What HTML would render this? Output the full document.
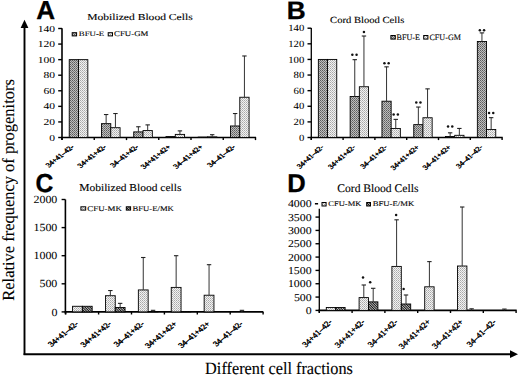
<!DOCTYPE html>
<html><head><meta charset="utf-8"><style>
html,body{margin:0;padding:0;background:#fff;width:520px;height:376px;overflow:hidden}
svg{display:block}

</style></head><body>
<svg width="520" height="376" viewBox="0 0 520 376" text-rendering="geometricPrecision">
<style>.t{stroke:#000;stroke-width:0.12px}.ty{stroke:#000;stroke-width:0.05px}.tc{stroke:#000;stroke-width:0.38px}.tl{stroke:#000;stroke-width:0.3px}.tn{stroke:#000;stroke-width:0.1px}</style>
<defs>
<pattern id="pd" width="2" height="2" patternUnits="userSpaceOnUse"><rect width="2" height="2" fill="#bebebe"/><rect width="1" height="1" fill="#5c5c5c"/><rect x="1" y="1" width="1" height="1" fill="#787878"/></pattern>
<pattern id="pd2" width="2" height="2" patternUnits="userSpaceOnUse"><rect width="2" height="2" fill="#8a8a8a"/><rect width="1" height="1" fill="#4a4a4a"/><rect x="1" y="1" width="1" height="1" fill="#5a5a5a"/></pattern>
<pattern id="pl" width="2" height="2" patternUnits="userSpaceOnUse"><rect width="2" height="2" fill="#f2f2f2"/><rect width="1" height="1" fill="#a8a8a8"/><rect x="1" y="1" width="1" height="1" fill="#c0c0c0"/></pattern>
<pattern id="ph" width="1.75" height="1.75" patternUnits="userSpaceOnUse" patternTransform="rotate(-45)"><rect width="1.75" height="1.75" fill="#ffffff"/><rect width="1.1" height="1.75" fill="#111"/></pattern>
</defs>
<rect width="520" height="376" fill="#fff"/>
<line x1="24.5" y1="27" x2="24.5" y2="355.1" stroke="#000" stroke-width="1.9"/>
<polygon points="24.5,19.8 20.6,28 28.4,28" fill="#000"/>
<line x1="23.6" y1="354.2" x2="511" y2="354.2" stroke="#000" stroke-width="1.9"/>
<polygon points="518,354.2 510,350.3 510,358.1" fill="#000"/>
<text transform="translate(13.8,300.69) rotate(-90) scale(0.971,1)" font-size="16.95" font-family="Liberation Serif" class="t">Relative frequency of progenitors</text>
<text transform="translate(205.11,373.80) scale(0.943,1)" font-size="17.25" font-family="Liberation Serif" font-weight="normal" fill="#000" class="t" >Different cell fractions</text>
<line x1="62.0" y1="28.3" x2="62.0" y2="139.9" stroke="#000" stroke-width="1.6"/>
<line x1="58.2" y1="137.50" x2="62.0" y2="137.50" stroke="#000" stroke-width="1.4"/>
<text transform="translate(49.18,140.53) scale(1.270,1)" font-size="9.10" font-family="Liberation Serif" class="ty">0</text>
<line x1="58.2" y1="121.93" x2="62.0" y2="121.93" stroke="#000" stroke-width="1.4"/>
<text transform="translate(43.41,124.95) scale(1.270,1)" font-size="9.10" font-family="Liberation Serif" class="ty">20</text>
<line x1="58.2" y1="106.36" x2="62.0" y2="106.36" stroke="#000" stroke-width="1.4"/>
<text transform="translate(43.41,109.38) scale(1.270,1)" font-size="9.10" font-family="Liberation Serif" class="ty">40</text>
<line x1="58.2" y1="90.78" x2="62.0" y2="90.78" stroke="#000" stroke-width="1.4"/>
<text transform="translate(43.41,93.81) scale(1.270,1)" font-size="9.10" font-family="Liberation Serif" class="ty">60</text>
<line x1="58.2" y1="75.21" x2="62.0" y2="75.21" stroke="#000" stroke-width="1.4"/>
<text transform="translate(43.41,78.24) scale(1.270,1)" font-size="9.10" font-family="Liberation Serif" class="ty">80</text>
<line x1="58.2" y1="59.64" x2="62.0" y2="59.64" stroke="#000" stroke-width="1.4"/>
<text transform="translate(37.63,62.67) scale(1.270,1)" font-size="9.10" font-family="Liberation Serif" class="ty">100</text>
<line x1="58.2" y1="44.07" x2="62.0" y2="44.07" stroke="#000" stroke-width="1.4"/>
<text transform="translate(37.63,47.09) scale(1.270,1)" font-size="9.10" font-family="Liberation Serif" class="ty">120</text>
<line x1="58.2" y1="28.50" x2="62.0" y2="28.50" stroke="#000" stroke-width="1.4"/>
<text transform="translate(37.63,31.52) scale(1.270,1)" font-size="9.10" font-family="Liberation Serif" class="ty">140</text>
<line x1="61.2" y1="137.5" x2="256.1" y2="137.5" stroke="#000" stroke-width="1.7"/>
<line x1="62.00" y1="137.5" x2="62.00" y2="140.1" stroke="#000" stroke-width="1.4"/>
<line x1="94.25" y1="137.5" x2="94.25" y2="140.1" stroke="#000" stroke-width="1.4"/>
<line x1="126.50" y1="137.5" x2="126.50" y2="140.1" stroke="#000" stroke-width="1.4"/>
<line x1="158.75" y1="137.5" x2="158.75" y2="140.1" stroke="#000" stroke-width="1.4"/>
<line x1="191.00" y1="137.5" x2="191.00" y2="140.1" stroke="#000" stroke-width="1.4"/>
<line x1="223.25" y1="137.5" x2="223.25" y2="140.1" stroke="#000" stroke-width="1.4"/>
<line x1="255.50" y1="137.5" x2="255.50" y2="140.1" stroke="#000" stroke-width="1.4"/>
<rect x="69.23" y="59.64" width="9.3" height="77.86" fill="url(#pd)" stroke="#000" stroke-width="0.9"/>
<rect x="78.53" y="59.64" width="9.3" height="77.86" fill="url(#pl)" stroke="#000" stroke-width="0.9"/>
<rect x="101.48" y="123.64" width="9.3" height="13.86" fill="url(#pd)" stroke="#000" stroke-width="0.9"/>
<line x1="106.13" y1="123.64" x2="106.13" y2="114.53" stroke="#333" stroke-width="1"/>
<line x1="103.93" y1="114.53" x2="108.33" y2="114.53" stroke="#222" stroke-width="1.1"/>
<rect x="110.78" y="127.69" width="9.3" height="9.81" fill="url(#pl)" stroke="#000" stroke-width="0.9"/>
<line x1="115.43" y1="127.69" x2="115.43" y2="113.52" stroke="#333" stroke-width="1"/>
<line x1="113.23" y1="113.52" x2="117.63" y2="113.52" stroke="#222" stroke-width="1.1"/>
<rect x="133.72" y="131.89" width="9.3" height="5.61" fill="url(#pd)" stroke="#000" stroke-width="0.9"/>
<line x1="138.38" y1="131.89" x2="138.38" y2="126.76" stroke="#333" stroke-width="1"/>
<line x1="136.18" y1="126.76" x2="140.57" y2="126.76" stroke="#222" stroke-width="1.1"/>
<rect x="143.03" y="130.57" width="9.3" height="6.93" fill="url(#pl)" stroke="#000" stroke-width="0.9"/>
<line x1="147.68" y1="130.57" x2="147.68" y2="124.89" stroke="#333" stroke-width="1"/>
<line x1="145.48" y1="124.89" x2="149.88" y2="124.89" stroke="#222" stroke-width="1.1"/>
<rect x="165.97" y="136.57" width="9.3" height="0.93" fill="url(#pd)" stroke="#000" stroke-width="0.9"/>
<rect x="175.28" y="134.39" width="9.3" height="3.11" fill="url(#pl)" stroke="#000" stroke-width="0.9"/>
<line x1="179.93" y1="134.39" x2="179.93" y2="130.88" stroke="#333" stroke-width="1"/>
<line x1="177.73" y1="130.88" x2="182.12" y2="130.88" stroke="#222" stroke-width="1.1"/>
<rect x="198.22" y="137.11" width="9.3" height="0.39" fill="url(#pd)" stroke="#000" stroke-width="0.9"/>
<rect x="207.53" y="136.88" width="9.3" height="0.62" fill="url(#pl)" stroke="#000" stroke-width="0.9"/>
<line x1="212.18" y1="136.88" x2="212.18" y2="134.70" stroke="#333" stroke-width="1"/>
<line x1="209.98" y1="134.70" x2="214.38" y2="134.70" stroke="#222" stroke-width="1.1"/>
<rect x="230.47" y="125.98" width="9.3" height="11.52" fill="url(#pd)" stroke="#000" stroke-width="0.9"/>
<line x1="235.12" y1="125.98" x2="235.12" y2="113.52" stroke="#333" stroke-width="1"/>
<line x1="232.93" y1="113.52" x2="237.32" y2="113.52" stroke="#222" stroke-width="1.1"/>
<rect x="239.78" y="97.25" width="9.3" height="40.25" fill="url(#pl)" stroke="#000" stroke-width="0.9"/>
<line x1="244.43" y1="97.25" x2="244.43" y2="55.98" stroke="#333" stroke-width="1"/>
<line x1="242.23" y1="55.98" x2="246.62" y2="55.98" stroke="#222" stroke-width="1.1"/>
<text transform="translate(74.56,147.35) scale(1.250,1) rotate(-45)" font-size="6.60" font-family="Liberation Serif" text-anchor="end" class="tc">34+41–42-</text>
<text transform="translate(106.81,147.35) scale(1.250,1) rotate(-45)" font-size="6.60" font-family="Liberation Serif" text-anchor="end" class="tc">34+41+42-</text>
<text transform="translate(139.06,147.35) scale(1.250,1) rotate(-45)" font-size="6.60" font-family="Liberation Serif" text-anchor="end" class="tc">34–41+42-</text>
<text transform="translate(171.31,147.35) scale(1.250,1) rotate(-45)" font-size="6.60" font-family="Liberation Serif" text-anchor="end" class="tc">34+41+42+</text>
<text transform="translate(203.56,147.35) scale(1.250,1) rotate(-45)" font-size="6.60" font-family="Liberation Serif" text-anchor="end" class="tc">34–41+42+</text>
<text transform="translate(235.81,147.35) scale(1.250,1) rotate(-45)" font-size="6.60" font-family="Liberation Serif" text-anchor="end" class="tc">34–41–42-</text>
<line x1="311.3" y1="28.0" x2="311.3" y2="139.9" stroke="#000" stroke-width="1.3"/>
<line x1="307.5" y1="137.50" x2="311.3" y2="137.50" stroke="#000" stroke-width="1.4"/>
<text transform="translate(298.96,140.66) scale(1.130,1)" font-size="9.50" font-family="Liberation Serif" class="ty">0</text>
<line x1="307.5" y1="121.89" x2="311.3" y2="121.89" stroke="#000" stroke-width="1.4"/>
<text transform="translate(293.59,125.04) scale(1.130,1)" font-size="9.50" font-family="Liberation Serif" class="ty">20</text>
<line x1="307.5" y1="106.27" x2="311.3" y2="106.27" stroke="#000" stroke-width="1.4"/>
<text transform="translate(293.59,109.43) scale(1.130,1)" font-size="9.50" font-family="Liberation Serif" class="ty">40</text>
<line x1="307.5" y1="90.66" x2="311.3" y2="90.66" stroke="#000" stroke-width="1.4"/>
<text transform="translate(293.59,93.82) scale(1.130,1)" font-size="9.50" font-family="Liberation Serif" class="ty">60</text>
<line x1="307.5" y1="75.04" x2="311.3" y2="75.04" stroke="#000" stroke-width="1.4"/>
<text transform="translate(293.59,78.20) scale(1.130,1)" font-size="9.50" font-family="Liberation Serif" class="ty">80</text>
<line x1="307.5" y1="59.43" x2="311.3" y2="59.43" stroke="#000" stroke-width="1.4"/>
<text transform="translate(288.23,62.59) scale(1.130,1)" font-size="9.50" font-family="Liberation Serif" class="ty">100</text>
<line x1="307.5" y1="43.82" x2="311.3" y2="43.82" stroke="#000" stroke-width="1.4"/>
<text transform="translate(288.23,46.97) scale(1.130,1)" font-size="9.50" font-family="Liberation Serif" class="ty">120</text>
<line x1="307.5" y1="28.20" x2="311.3" y2="28.20" stroke="#000" stroke-width="1.4"/>
<text transform="translate(288.23,31.36) scale(1.130,1)" font-size="9.50" font-family="Liberation Serif" class="ty">140</text>
<line x1="310.5" y1="137.5" x2="502.70000000000005" y2="137.5" stroke="#000" stroke-width="1.7"/>
<line x1="311.30" y1="137.5" x2="311.30" y2="140.1" stroke="#000" stroke-width="1.4"/>
<line x1="343.10" y1="137.5" x2="343.10" y2="140.1" stroke="#000" stroke-width="1.4"/>
<line x1="374.90" y1="137.5" x2="374.90" y2="140.1" stroke="#000" stroke-width="1.4"/>
<line x1="406.70" y1="137.5" x2="406.70" y2="140.1" stroke="#000" stroke-width="1.4"/>
<line x1="438.50" y1="137.5" x2="438.50" y2="140.1" stroke="#000" stroke-width="1.4"/>
<line x1="470.30" y1="137.5" x2="470.30" y2="140.1" stroke="#000" stroke-width="1.4"/>
<line x1="502.10" y1="137.5" x2="502.10" y2="140.1" stroke="#000" stroke-width="1.4"/>
<rect x="318.35" y="59.43" width="9.2" height="78.07" fill="url(#pd)" stroke="#000" stroke-width="0.9"/>
<rect x="327.55" y="59.43" width="9.2" height="78.07" fill="url(#pl)" stroke="#000" stroke-width="0.9"/>
<rect x="350.15" y="96.51" width="9.2" height="40.99" fill="url(#pd)" stroke="#000" stroke-width="0.9"/>
<line x1="354.75" y1="96.51" x2="354.75" y2="59.66" stroke="#333" stroke-width="1"/>
<line x1="352.55" y1="59.66" x2="356.95" y2="59.66" stroke="#222" stroke-width="1.1"/>
<circle cx="352.35" cy="54.86" r="1.25" fill="#111"/>
<circle cx="356.55" cy="54.86" r="1.25" fill="#111"/>
<rect x="359.35" y="86.75" width="9.2" height="50.75" fill="url(#pl)" stroke="#000" stroke-width="0.9"/>
<line x1="363.95" y1="86.75" x2="363.95" y2="36.01" stroke="#333" stroke-width="1"/>
<line x1="361.75" y1="36.01" x2="366.15" y2="36.01" stroke="#222" stroke-width="1.1"/>
<circle cx="363.95" cy="32.11" r="1.25" fill="#111"/>
<rect x="381.95" y="101.20" width="9.2" height="36.30" fill="url(#pd)" stroke="#000" stroke-width="0.9"/>
<line x1="386.55" y1="101.20" x2="386.55" y2="66.85" stroke="#333" stroke-width="1"/>
<line x1="384.35" y1="66.85" x2="388.75" y2="66.85" stroke="#222" stroke-width="1.1"/>
<circle cx="384.45" cy="63.15" r="1.25" fill="#111"/>
<circle cx="388.65" cy="63.15" r="1.25" fill="#111"/>
<rect x="391.15" y="128.52" width="9.2" height="8.98" fill="url(#pl)" stroke="#000" stroke-width="0.9"/>
<line x1="395.75" y1="128.52" x2="395.75" y2="119.39" stroke="#333" stroke-width="1"/>
<line x1="393.55" y1="119.39" x2="397.95" y2="119.39" stroke="#222" stroke-width="1.1"/>
<circle cx="393.65" cy="114.59" r="1.25" fill="#111"/>
<circle cx="397.85" cy="114.59" r="1.25" fill="#111"/>
<rect x="413.75" y="124.62" width="9.2" height="12.88" fill="url(#pd)" stroke="#000" stroke-width="0.9"/>
<line x1="418.35" y1="124.62" x2="418.35" y2="107.05" stroke="#333" stroke-width="1"/>
<line x1="416.15" y1="107.05" x2="420.55" y2="107.05" stroke="#222" stroke-width="1.1"/>
<circle cx="416.25" cy="102.55" r="1.25" fill="#111"/>
<circle cx="420.45" cy="102.55" r="1.25" fill="#111"/>
<rect x="422.95" y="117.75" width="9.2" height="19.75" fill="url(#pl)" stroke="#000" stroke-width="0.9"/>
<line x1="427.55" y1="117.75" x2="427.55" y2="88.86" stroke="#333" stroke-width="1"/>
<line x1="425.35" y1="88.86" x2="429.75" y2="88.86" stroke="#222" stroke-width="1.1"/>
<rect x="445.55" y="136.49" width="9.2" height="1.01" fill="url(#pd)" stroke="#000" stroke-width="0.9"/>
<line x1="450.15" y1="136.49" x2="450.15" y2="132.82" stroke="#333" stroke-width="1"/>
<line x1="447.95" y1="132.82" x2="452.35" y2="132.82" stroke="#222" stroke-width="1.1"/>
<circle cx="448.05" cy="126.52" r="1.25" fill="#111"/>
<circle cx="452.25" cy="126.52" r="1.25" fill="#111"/>
<rect x="454.75" y="135.31" width="9.2" height="2.19" fill="url(#pl)" stroke="#000" stroke-width="0.9"/>
<line x1="459.35" y1="135.31" x2="459.35" y2="128.44" stroke="#333" stroke-width="1"/>
<line x1="457.15" y1="128.44" x2="461.55" y2="128.44" stroke="#222" stroke-width="1.1"/>
<rect x="477.35" y="41.47" width="9.2" height="96.03" fill="url(#pd)" stroke="#000" stroke-width="0.9"/>
<line x1="481.95" y1="41.47" x2="481.95" y2="32.89" stroke="#333" stroke-width="1"/>
<line x1="479.75" y1="32.89" x2="484.15" y2="32.89" stroke="#222" stroke-width="1.1"/>
<circle cx="479.85" cy="30.29" r="1.25" fill="#111"/>
<circle cx="484.05" cy="30.29" r="1.25" fill="#111"/>
<rect x="486.55" y="129.46" width="9.2" height="8.04" fill="url(#pl)" stroke="#000" stroke-width="0.9"/>
<line x1="491.15" y1="129.46" x2="491.15" y2="117.67" stroke="#333" stroke-width="1"/>
<line x1="488.95" y1="117.67" x2="493.35" y2="117.67" stroke="#222" stroke-width="1.1"/>
<circle cx="489.05" cy="113.07" r="1.25" fill="#111"/>
<circle cx="493.25" cy="113.07" r="1.25" fill="#111"/>
<text transform="translate(324.10,147.65) scale(1.130,1) rotate(-45)" font-size="6.90" font-family="Liberation Serif" text-anchor="end" class="tc">34+41–42-</text>
<text transform="translate(355.90,147.65) scale(1.130,1) rotate(-45)" font-size="6.90" font-family="Liberation Serif" text-anchor="end" class="tc">34+41+42-</text>
<text transform="translate(387.70,147.65) scale(1.130,1) rotate(-45)" font-size="6.90" font-family="Liberation Serif" text-anchor="end" class="tc">34–41+42-</text>
<text transform="translate(419.50,147.65) scale(1.130,1) rotate(-45)" font-size="6.90" font-family="Liberation Serif" text-anchor="end" class="tc">34+41+42+</text>
<text transform="translate(451.30,147.65) scale(1.130,1) rotate(-45)" font-size="6.90" font-family="Liberation Serif" text-anchor="end" class="tc">34–41+42+</text>
<text transform="translate(483.10,147.65) scale(1.130,1) rotate(-45)" font-size="6.90" font-family="Liberation Serif" text-anchor="end" class="tc">34–41–42-</text>
<line x1="65.4" y1="199.5" x2="65.4" y2="314.29999999999995" stroke="#000" stroke-width="1.6"/>
<line x1="61.60000000000001" y1="311.90" x2="65.4" y2="311.90" stroke="#000" stroke-width="1.4"/>
<text transform="translate(51.38,315.52) scale(1.100,1)" font-size="10.90" font-family="Liberation Serif" class="ty">0</text>
<line x1="61.60000000000001" y1="283.80" x2="65.4" y2="283.80" stroke="#000" stroke-width="1.4"/>
<text transform="translate(39.39,287.42) scale(1.100,1)" font-size="10.90" font-family="Liberation Serif" class="ty">500</text>
<line x1="61.60000000000001" y1="255.70" x2="65.4" y2="255.70" stroke="#000" stroke-width="1.4"/>
<text transform="translate(33.40,259.32) scale(1.100,1)" font-size="10.90" font-family="Liberation Serif" class="ty">1000</text>
<line x1="61.60000000000001" y1="227.60" x2="65.4" y2="227.60" stroke="#000" stroke-width="1.4"/>
<text transform="translate(33.40,231.22) scale(1.100,1)" font-size="10.90" font-family="Liberation Serif" class="ty">1500</text>
<line x1="61.60000000000001" y1="199.50" x2="65.4" y2="199.50" stroke="#000" stroke-width="1.4"/>
<text transform="translate(33.40,203.12) scale(1.100,1)" font-size="10.90" font-family="Liberation Serif" class="ty">2000</text>
<line x1="64.60000000000001" y1="311.9" x2="263.4" y2="311.9" stroke="#000" stroke-width="1.7"/>
<line x1="65.70" y1="311.9" x2="65.70" y2="314.5" stroke="#000" stroke-width="1.4"/>
<line x1="98.60" y1="311.9" x2="98.60" y2="314.5" stroke="#000" stroke-width="1.4"/>
<line x1="131.50" y1="311.9" x2="131.50" y2="314.5" stroke="#000" stroke-width="1.4"/>
<line x1="164.40" y1="311.9" x2="164.40" y2="314.5" stroke="#000" stroke-width="1.4"/>
<line x1="197.30" y1="311.9" x2="197.30" y2="314.5" stroke="#000" stroke-width="1.4"/>
<line x1="230.20" y1="311.9" x2="230.20" y2="314.5" stroke="#000" stroke-width="1.4"/>
<line x1="263.10" y1="311.9" x2="263.10" y2="314.5" stroke="#000" stroke-width="1.4"/>
<rect x="72.55" y="306.28" width="9.8" height="5.62" fill="url(#pl)" stroke="#000" stroke-width="0.9"/>
<rect x="82.35" y="306.28" width="9.8" height="5.62" fill="url(#ph)" stroke="#000" stroke-width="0.9"/>
<rect x="105.45" y="295.71" width="9.8" height="16.19" fill="url(#pl)" stroke="#000" stroke-width="0.9"/>
<line x1="110.35" y1="295.71" x2="110.35" y2="290.54" stroke="#333" stroke-width="1"/>
<line x1="108.15" y1="290.54" x2="112.55" y2="290.54" stroke="#222" stroke-width="1.1"/>
<rect x="115.25" y="307.52" width="9.8" height="4.38" fill="url(#ph)" stroke="#000" stroke-width="0.9"/>
<line x1="120.15" y1="307.52" x2="120.15" y2="303.36" stroke="#333" stroke-width="1"/>
<line x1="117.95" y1="303.36" x2="122.35" y2="303.36" stroke="#222" stroke-width="1.1"/>
<rect x="138.35" y="289.93" width="9.8" height="21.97" fill="url(#pl)" stroke="#000" stroke-width="0.9"/>
<line x1="143.25" y1="289.93" x2="143.25" y2="257.50" stroke="#333" stroke-width="1"/>
<line x1="141.05" y1="257.50" x2="145.45" y2="257.50" stroke="#222" stroke-width="1.1"/>
<rect x="148.15" y="311.45" width="9.8" height="0.45" fill="url(#ph)" stroke="#000" stroke-width="0.9"/>
<line x1="153.05" y1="311.45" x2="153.05" y2="310.33" stroke="#333" stroke-width="1"/>
<line x1="150.85" y1="310.33" x2="155.25" y2="310.33" stroke="#222" stroke-width="1.1"/>
<rect x="171.25" y="287.40" width="9.8" height="24.50" fill="url(#pl)" stroke="#000" stroke-width="0.9"/>
<line x1="176.15" y1="287.40" x2="176.15" y2="255.70" stroke="#333" stroke-width="1"/>
<line x1="173.95" y1="255.70" x2="178.35" y2="255.70" stroke="#222" stroke-width="1.1"/>
<rect x="181.05" y="311.56" width="9.8" height="0.34" fill="url(#ph)" stroke="#000" stroke-width="0.9"/>
<rect x="204.15" y="295.21" width="9.8" height="16.69" fill="url(#pl)" stroke="#000" stroke-width="0.9"/>
<line x1="209.05" y1="295.21" x2="209.05" y2="264.69" stroke="#333" stroke-width="1"/>
<line x1="206.85" y1="264.69" x2="211.25" y2="264.69" stroke="#222" stroke-width="1.1"/>
<line x1="241.95" y1="311.90" x2="241.95" y2="310.33" stroke="#333" stroke-width="1"/>
<line x1="239.75" y1="310.33" x2="244.15" y2="310.33" stroke="#222" stroke-width="1.1"/>
<text transform="translate(78.95,324.25) scale(1.200,1) rotate(-45)" font-size="7.35" font-family="Liberation Serif" text-anchor="end" class="tc">34+41–42-</text>
<text transform="translate(111.85,324.25) scale(1.200,1) rotate(-45)" font-size="7.35" font-family="Liberation Serif" text-anchor="end" class="tc">34+41+42-</text>
<text transform="translate(144.75,324.25) scale(1.200,1) rotate(-45)" font-size="7.35" font-family="Liberation Serif" text-anchor="end" class="tc">34–41+42-</text>
<text transform="translate(177.65,324.25) scale(1.200,1) rotate(-45)" font-size="7.35" font-family="Liberation Serif" text-anchor="end" class="tc">34+41+42+</text>
<text transform="translate(210.55,324.25) scale(1.200,1) rotate(-45)" font-size="7.35" font-family="Liberation Serif" text-anchor="end" class="tc">34–41+42+</text>
<text transform="translate(243.45,324.25) scale(1.200,1) rotate(-45)" font-size="7.35" font-family="Liberation Serif" text-anchor="end" class="tc">34–41–42-</text>
<line x1="319.3" y1="208.7" x2="319.3" y2="312.79999999999995" stroke="#000" stroke-width="1.3"/>
<line x1="315.5" y1="310.40" x2="319.3" y2="310.40" stroke="#000" stroke-width="1.4"/>
<text transform="translate(305.74,313.89) scale(1.130,1)" font-size="10.50" font-family="Liberation Serif" class="ty">0</text>
<line x1="315.5" y1="297.07" x2="319.3" y2="297.07" stroke="#000" stroke-width="1.4"/>
<text transform="translate(293.88,300.56) scale(1.130,1)" font-size="10.50" font-family="Liberation Serif" class="ty">500</text>
<line x1="315.5" y1="283.74" x2="319.3" y2="283.74" stroke="#000" stroke-width="1.4"/>
<text transform="translate(287.94,287.23) scale(1.130,1)" font-size="10.50" font-family="Liberation Serif" class="ty">1000</text>
<line x1="315.5" y1="270.41" x2="319.3" y2="270.41" stroke="#000" stroke-width="1.4"/>
<text transform="translate(287.94,273.90) scale(1.130,1)" font-size="10.50" font-family="Liberation Serif" class="ty">1500</text>
<line x1="315.5" y1="257.08" x2="319.3" y2="257.08" stroke="#000" stroke-width="1.4"/>
<text transform="translate(287.94,260.57) scale(1.130,1)" font-size="10.50" font-family="Liberation Serif" class="ty">2000</text>
<line x1="315.5" y1="243.75" x2="319.3" y2="243.75" stroke="#000" stroke-width="1.4"/>
<text transform="translate(287.94,247.24) scale(1.130,1)" font-size="10.50" font-family="Liberation Serif" class="ty">2500</text>
<line x1="315.5" y1="230.42" x2="319.3" y2="230.42" stroke="#000" stroke-width="1.4"/>
<text transform="translate(287.94,233.91) scale(1.130,1)" font-size="10.50" font-family="Liberation Serif" class="ty">3000</text>
<line x1="315.5" y1="217.09" x2="319.3" y2="217.09" stroke="#000" stroke-width="1.4"/>
<text transform="translate(287.94,220.58) scale(1.130,1)" font-size="10.50" font-family="Liberation Serif" class="ty">3500</text>
<line x1="314.90000000000003" y1="203.76" x2="318.1" y2="203.76" stroke="#000" stroke-width="1.5"/>
<text transform="translate(287.94,207.25) scale(1.130,1)" font-size="10.50" font-family="Liberation Serif" class="ty">4000</text>
<line x1="318.5" y1="310.4" x2="516.7" y2="310.4" stroke="#000" stroke-width="1.7"/>
<line x1="319.30" y1="310.4" x2="319.30" y2="313.0" stroke="#000" stroke-width="1.4"/>
<line x1="352.10" y1="310.4" x2="352.10" y2="313.0" stroke="#000" stroke-width="1.4"/>
<line x1="384.90" y1="310.4" x2="384.90" y2="313.0" stroke="#000" stroke-width="1.4"/>
<line x1="417.70" y1="310.4" x2="417.70" y2="313.0" stroke="#000" stroke-width="1.4"/>
<line x1="450.50" y1="310.4" x2="450.50" y2="313.0" stroke="#000" stroke-width="1.4"/>
<line x1="483.30" y1="310.4" x2="483.30" y2="313.0" stroke="#000" stroke-width="1.4"/>
<line x1="516.10" y1="310.4" x2="516.10" y2="313.0" stroke="#000" stroke-width="1.4"/>
<rect x="326.30" y="307.47" width="9.4" height="2.93" fill="url(#pl)" stroke="#000" stroke-width="0.9"/>
<rect x="335.70" y="307.47" width="9.4" height="2.93" fill="url(#ph)" stroke="#000" stroke-width="0.9"/>
<rect x="359.10" y="297.60" width="9.4" height="12.80" fill="url(#pl)" stroke="#000" stroke-width="0.9"/>
<line x1="363.80" y1="297.60" x2="363.80" y2="284.99" stroke="#333" stroke-width="1"/>
<line x1="361.60" y1="284.99" x2="366.00" y2="284.99" stroke="#222" stroke-width="1.1"/>
<circle cx="363.00" cy="277.39" r="1.25" fill="#111"/>
<rect x="368.50" y="301.87" width="9.4" height="8.53" fill="url(#ph)" stroke="#000" stroke-width="0.9"/>
<line x1="373.20" y1="301.87" x2="373.20" y2="288.30" stroke="#333" stroke-width="1"/>
<line x1="371.00" y1="288.30" x2="375.40" y2="288.30" stroke="#222" stroke-width="1.1"/>
<circle cx="370.20" cy="282.30" r="1.25" fill="#111"/>
<rect x="391.90" y="266.41" width="9.4" height="43.99" fill="url(#pl)" stroke="#000" stroke-width="0.9"/>
<line x1="396.60" y1="266.41" x2="396.60" y2="219.81" stroke="#333" stroke-width="1"/>
<line x1="394.40" y1="219.81" x2="398.80" y2="219.81" stroke="#222" stroke-width="1.1"/>
<circle cx="396.10" cy="215.01" r="1.25" fill="#111"/>
<rect x="401.30" y="304.00" width="9.4" height="6.40" fill="url(#ph)" stroke="#000" stroke-width="0.9"/>
<line x1="406.00" y1="304.00" x2="406.00" y2="294.99" stroke="#333" stroke-width="1"/>
<line x1="403.80" y1="294.99" x2="408.20" y2="294.99" stroke="#222" stroke-width="1.1"/>
<circle cx="403.60" cy="288.99" r="1.25" fill="#111"/>
<rect x="424.70" y="286.81" width="9.4" height="23.59" fill="url(#pl)" stroke="#000" stroke-width="0.9"/>
<line x1="429.40" y1="286.81" x2="429.40" y2="261.61" stroke="#333" stroke-width="1"/>
<line x1="427.20" y1="261.61" x2="431.60" y2="261.61" stroke="#222" stroke-width="1.1"/>
<rect x="457.50" y="266.01" width="9.4" height="44.39" fill="url(#pl)" stroke="#000" stroke-width="0.9"/>
<line x1="462.20" y1="266.01" x2="462.20" y2="207.01" stroke="#333" stroke-width="1"/>
<line x1="460.00" y1="207.01" x2="464.40" y2="207.01" stroke="#222" stroke-width="1.1"/>
<line x1="471.60" y1="310.27" x2="471.60" y2="308.80" stroke="#333" stroke-width="1"/>
<line x1="469.40" y1="308.80" x2="473.80" y2="308.80" stroke="#222" stroke-width="1.1"/>
<line x1="504.40" y1="310.27" x2="504.40" y2="309.07" stroke="#333" stroke-width="1"/>
<line x1="502.20" y1="309.07" x2="506.60" y2="309.07" stroke="#222" stroke-width="1.1"/>
<text transform="translate(332.60,322.35) scale(1.055,1) rotate(-45)" font-size="8.20" font-family="Liberation Serif" text-anchor="end" class="tc">34+41–42-</text>
<text transform="translate(365.40,322.35) scale(1.055,1) rotate(-45)" font-size="8.20" font-family="Liberation Serif" text-anchor="end" class="tc">34+41+42-</text>
<text transform="translate(398.20,322.35) scale(1.055,1) rotate(-45)" font-size="8.20" font-family="Liberation Serif" text-anchor="end" class="tc">34–41+42-</text>
<text transform="translate(431.00,322.35) scale(1.055,1) rotate(-45)" font-size="8.20" font-family="Liberation Serif" text-anchor="end" class="tc">34+41+42+</text>
<text transform="translate(463.80,322.35) scale(1.055,1) rotate(-45)" font-size="8.20" font-family="Liberation Serif" text-anchor="end" class="tc">34–41+42+</text>
<text transform="translate(496.60,322.35) scale(1.055,1) rotate(-45)" font-size="8.20" font-family="Liberation Serif" text-anchor="end" class="tc">34–41–42-</text>
<text transform="translate(36.22,19.30) scale(0.999,1)" font-size="26.09" font-family="Liberation Sans" font-weight="bold" fill="#000" class="tl" >A</text>
<text transform="translate(286.76,19.00) scale(1.040,1)" font-size="25.22" font-family="Liberation Sans" font-weight="bold" fill="#000" class="tl" >B</text>
<text transform="translate(35.62,191.90) scale(0.947,1)" font-size="26.00" font-family="Liberation Sans" font-weight="bold" fill="#000" class="tl" >C</text>
<text transform="translate(287.21,191.70) scale(0.997,1)" font-size="25.65" font-family="Liberation Sans" font-weight="bold" fill="#000" class="tl" >D</text>
<text transform="translate(87.15,19.80) scale(1.265,1)" font-size="9.16" font-family="Liberation Serif" font-weight="normal" fill="#000" class="t" >Mobilized Blood Cells</text>
<text transform="translate(330.08,23.00) scale(1.140,1)" font-size="9.31" font-family="Liberation Serif" font-weight="normal" fill="#000" class="t" >Cord Blood Cells</text>
<text transform="translate(79.25,191.40) scale(1.093,1)" font-size="10.53" font-family="Liberation Serif" font-weight="normal" fill="#000" class="t" >Mobilized Blood cells</text>
<text transform="translate(337.24,191.80) scale(1.000,1)" font-size="11.60" font-family="Liberation Serif" font-weight="normal" fill="#000" class="t" >Cord Blood Cells</text>
<rect x="72.20" y="32.70" width="4.40" height="3.20" fill="url(#pd)" stroke="#000" stroke-width="1"/>
<text transform="translate(78.84,36.30) scale(1.279,1)" font-size="6.87" font-family="Liberation Serif" font-weight="normal" fill="#000" class="tn" >BFU-E</text>
<rect x="108.20" y="32.70" width="4.30" height="3.20" fill="url(#pl)" stroke="#000" stroke-width="1"/>
<text transform="translate(114.05,36.40) scale(1.204,1)" font-size="7.33" font-family="Liberation Serif" font-weight="normal" fill="#000" class="tn" >CFU-GM</text>
<rect x="390.90" y="35.50" width="4.40" height="3.60" fill="url(#pd)" stroke="#000" stroke-width="1"/>
<text transform="translate(396.56,40.00) scale(0.984,1)" font-size="8.24" font-family="Liberation Serif" font-weight="normal" fill="#000" class="tn" >BFU-E</text>
<rect x="423.70" y="35.50" width="4.20" height="3.60" fill="url(#pl)" stroke="#000" stroke-width="1"/>
<text transform="translate(429.48,40.00) scale(0.981,1)" font-size="8.24" font-family="Liberation Serif" font-weight="normal" fill="#000" class="tn" >CFU-GM</text>
<rect x="80.90" y="206.80" width="4.80" height="3.30" fill="url(#pl)" stroke="#000" stroke-width="1"/>
<text transform="translate(87.24,210.60) scale(1.215,1)" font-size="7.33" font-family="Liberation Serif" font-weight="normal" fill="#000" class="tn" >CFU-MK</text>
<rect x="126.30" y="206.80" width="4.30" height="3.30" fill="url(#ph)" stroke="#000" stroke-width="1"/>
<text transform="translate(132.44,210.60) scale(1.183,1)" font-size="7.33" font-family="Liberation Serif" font-weight="normal" fill="#000" class="tn" >BFU-E/MK</text>
<rect x="322.00" y="202.50" width="4.10" height="3.50" fill="url(#pl)" stroke="#000" stroke-width="1"/>
<text transform="translate(328.36,206.20) scale(1.183,1)" font-size="7.18" font-family="Liberation Serif" font-weight="normal" fill="#000" class="tn" >CFU-MK</text>
<rect x="366.70" y="202.50" width="3.80" height="3.50" fill="url(#ph)" stroke="#000" stroke-width="1"/>
<text transform="translate(372.64,206.20) scale(1.214,1)" font-size="7.18" font-family="Liberation Serif" font-weight="normal" fill="#000" class="tn" >BFU-E/MK</text>
</svg>
</body></html>
